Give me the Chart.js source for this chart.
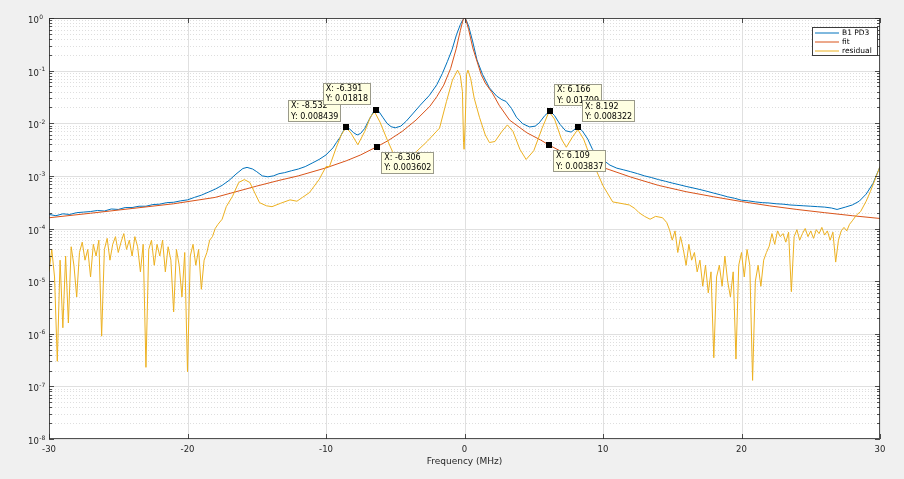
<!DOCTYPE html>
<html>
<head>
<meta charset="utf-8">
<script src="https://cdn.jsdelivr.net/npm/chart.js@4.4.1/dist/chart.umd.min.js"></script>
<style>
  html, body { margin: 0; padding: 0; background: #f0f0f0; }
  #wrap { width: 904px; height: 479px; }
</style>
</head>
<body>
<div id="wrap"><canvas id="c"></canvas></div>
<script>
const blueFreq = [-30, -29.5, -29, -28.5, -28, -27.5, -27, -26.5, -26, -25.5, -25, -24.5, -24, -23.5, -23, -22.5, -22, -21.5, -21, -20.5, -20, -19.5, -19, -18.5, -18, -17.5, -17, -16.5, -16, -15.7, -15.3, -15, -14.6, -14.2, -13.8, -13.4, -13, -12.5, -12, -11.5, -11, -10.5, -10, -9.5, -9.25, -9, -8.8, -8.532, -8.3, -8, -7.75, -7.5, -7.2, -6.9, -6.6, -6.391, -6.2, -5.9, -5.6, -5.3, -5, -4.6, -4.2, -3.75, -3.2, -2.53, -2, -1.6, -1.23, -0.9, -0.58, -0.3, -0.12, 0, 0.12, 0.3, 0.6, 0.9, 1.3, 1.8, 2.31, 2.7, 3, 3.4, 3.75, 4.2, 4.7, 5.1, 5.4, 5.8, 6.166, 6.5, 6.9, 7.3, 7.7, 8, 8.192, 8.5, 8.9, 9.24, 9.8, 10.5, 11, 11.5, 12, 12.5, 13, 13.5, 14, 14.5, 15, 15.5, 16, 16.5, 17, 17.5, 18, 18.5, 19, 19.5, 20, 20.5, 21, 21.5, 22, 22.5, 23, 23.5, 24, 24.5, 25, 25.5, 26, 26.5, 26.9, 27.5, 28, 28.5, 29, 29.5, 30];
const blueAmp = [1.85e-4, 1.75e-4, 1.9e-4, 1.85e-4, 2.0e-4, 2.05e-4, 2.1e-4, 2.2e-4, 2.15e-4, 2.35e-4, 2.3e-4, 2.5e-4, 2.5e-4, 2.65e-4, 2.65e-4, 2.85e-4, 2.9e-4, 3.1e-4, 3.15e-4, 3.35e-4, 3.5e-4, 3.9e-4, 4.3e-4, 4.9e-4, 5.6e-4, 6.6e-4, 8.2e-4, 1.08e-3, 1.38e-3, 1.45e-3, 1.35e-3, 1.2e-3, 1.0e-3, 9.6e-4, 1.0e-3, 1.1e-3, 1.15e-3, 1.25e-3, 1.35e-3, 1.5e-3, 1.75e-3, 2.05e-3, 2.5e-3, 3.4e-3, 4.3e-3, 5.3e-3, 6.8e-3, 8.439e-3, 7.8e-3, 6.6e-3, 6.0e-3, 6.4e-3, 8.0e-3, 1.15e-2, 1.6e-2, 1.818e-2, 1.7e-2, 1.3e-2, 1.0e-2, 8.6e-3, 8.2e-3, 8.8e-3, 1.1e-2, 1.5e-2, 2.2e-2, 3.4e-2, 5.4e-2, 8.8e-2, 0.15, 0.25, 0.48, 0.75, 0.93, 1.0, 0.92, 0.7, 0.35, 0.16, 0.085, 0.047, 0.033, 0.028, 0.026, 0.019, 0.013, 9.8e-3, 8.5e-3, 8.8e-3, 1.02e-2, 1.4e-2, 1.709e-2, 1.4e-2, 9.5e-3, 7.2e-3, 6.8e-3, 7.8e-3, 8.322e-3, 7.2e-3, 5.0e-3, 3.2e-3, 2.2e-3, 1.6e-3, 1.4e-3, 1.3e-3, 1.2e-3, 1.1e-3, 1.0e-3, 9.3e-4, 8.5e-4, 7.9e-4, 7.3e-4, 6.8e-4, 6.3e-4, 5.9e-4, 5.5e-4, 5.1e-4, 4.7e-4, 4.35e-4, 4.0e-4, 3.75e-4, 3.45e-4, 3.35e-4, 3.2e-4, 3.1e-4, 3.05e-4, 2.95e-4, 2.9e-4, 2.8e-4, 2.75e-4, 2.7e-4, 2.65e-4, 2.6e-4, 2.55e-4, 2.45e-4, 2.3e-4, 2.55e-4, 2.8e-4, 3.3e-4, 4.5e-4, 7.2e-4, 1.5e-3];

// Lorentzian fit
const fitFreq = [-30, -27, -24, -21, -18, -15, -13.4, -12, -10, -8.5, -7.5, -6.306, -5.5, -4.5, -3.5, -2.5, -2, -1.5, -1, -0.6, -0.3, -0.1, 0, 0.1, 0.3, 0.6, 0.87, 1.2, 1.5, 2, 2.5, 3.25, 4.5, 5.5, 6.109, 7, 8, 9, 10.5, 12, 14, 16, 18, 20, 22, 24, 26, 28, 30];
const fitAmp = [1.6e-4, 1.95e-4, 2.4e-4, 2.95e-4, 3.9e-4, 6.4e-4, 8.2e-4, 1.0e-3, 1.42e-3, 1.95e-3, 2.5e-3, 3.602e-3, 4.7e-3, 7.0e-3, 1.15e-2, 2.1e-2, 3.2e-2, 5.3e-2, 0.11, 0.26, 0.58, 0.93, 1.0, 0.93, 0.6, 0.27, 0.16, 0.085, 0.058, 0.038, 0.022, 0.0115, 6.6e-3, 4.8e-3, 3.837e-3, 2.9e-3, 2.25e-3, 1.78e-3, 1.3e-3, 9.5e-4, 6.6e-4, 5.0e-4, 4.0e-4, 3.25e-4, 2.7e-4, 2.3e-4, 2.0e-4, 1.75e-4, 1.55e-4];

// residual = data - fit
const resFreq = [-30, -29.8, -29.6, -29.4, -29.2, -29, -28.8, -28.6, -28.4, -28.2, -28, -27.8, -27.6, -27.4, -27.2, -27, -26.8, -26.6, -26.4, -26.2, -26, -25.8, -25.6, -25.4, -25.2, -25, -24.8, -24.6, -24.4, -24.2, -24, -23.8, -23.6, -23.4, -23.2, -23, -22.8, -22.6, -22.4, -22.2, -22, -21.8, -21.6, -21.4, -21.2, -21, -20.8, -20.6, -20.4, -20.2, -20, -19.8, -19.6, -19.4, -19.2, -19, -18.8, -18.6, -18.4, -18.2, -18, -17.8, -17.5, -17.2, -16.75, -16.3, -15.9, -15.5, -15.1, -14.8, -14.3, -13.9, -13.3, -12.6, -12.1, -11.7, -11.2, -10.5, -10, -9.75, -9.25, -8.9, -8.55, -8.2, -7.7, -7.2, -6.8, -6.5, -6.1, -5.6, -5.2, -4.6, -4.1, -3.47, -2.7, -1.8, -1.3, -0.87, -0.5, -0.3, -0.15, -0.07, -0.03, 0.05, 0.15, 0.25, 0.45, 0.7, 1.08, 1.5, 1.8, 2.2, 2.7, 3.1, 3.5, 4, 4.45, 5, 5.6, 6.1, 6.5, 7, 7.35, 7.8, 8.18, 8.6, 9, 9.5, 10, 10.3, 10.7, 11.3, 11.9, 12.3, 12.6, 13, 13.4, 13.8, 14.3, 14.6, 14.8, 15, 15.2, 15.4, 15.6, 15.8, 16, 16.2, 16.4, 16.6, 16.8, 17, 17.2, 17.4, 17.6, 17.8, 18, 18.2, 18.4, 18.6, 18.8, 19, 19.2, 19.4, 19.6, 19.8, 20, 20.2, 20.4, 20.6, 20.8, 21, 21.2, 21.4, 21.6, 21.8, 22, 22.2, 22.4, 22.6, 22.8, 23, 23.2, 23.4, 23.6, 23.8, 24, 24.2, 24.4, 24.6, 24.8, 25, 25.2, 25.4, 25.6, 25.8, 26, 26.2, 26.4, 26.6, 26.8, 27, 27.2, 27.4, 27.6, 27.8, 28, 28.3, 28.6, 29, 29.3, 29.6, 30];
const resAmp = [1.5e-5, 4e-5, 1.2e-5, 3e-7, 2.5e-5, 1.3e-6, 3e-5, 1.6e-6, 4.5e-5, 2e-5, 5e-6, 3.5e-5, 5.5e-5, 2.5e-5, 4e-5, 1.2e-5, 5e-5, 3e-5, 6e-5, 9e-7, 4e-5, 6.5e-5, 2.5e-5, 5e-5, 7e-5, 3.5e-5, 5.5e-5, 8e-5, 4e-5, 6e-5, 3e-5, 7e-5, 4.5e-5, 1.5e-5, 5e-5, 2.3e-7, 4e-5, 6e-5, 2e-5, 5e-5, 3e-5, 6e-5, 1.5e-5, 4.5e-5, 2.5e-5, 2.6e-6, 4e-5, 2e-5, 5e-6, 3.5e-5, 1.9e-7, 3e-5, 5e-5, 2e-5, 4e-5, 7e-6, 2.5e-5, 3.5e-5, 6e-5, 7e-5, 1e-4, 1.2e-4, 1.5e-4, 2.6e-4, 4.1e-4, 7.5e-4, 8.5e-4, 7.5e-4, 4.5e-4, 3.1e-4, 2.7e-4, 2.6e-4, 3.0e-4, 3.5e-4, 3.3e-4, 3.9e-4, 4.8e-4, 8.5e-4, 1.5e-3, 1.5e-3, 3.5e-3, 6e-3, 8.3e-3, 6.5e-3, 3.9e-3, 7e-3, 1.3e-2, 1.66e-2, 1.05e-2, 5e-3, 2.9e-3, 1.4e-3, 1.6e-3, 2.9e-3, 4.5e-3, 8.1e-3, 2.6e-2, 6.6e-2, 0.102, 0.08, 0.04, 4.3e-3, 3.2e-3, 1e-2, 0.085, 0.102, 0.07, 0.03, 1.3e-2, 6e-3, 4.3e-3, 4.5e-3, 7e-3, 9.3e-3, 7e-3, 3.2e-3, 2.05e-3, 3.0e-3, 8e-3, 1.66e-2, 1.2e-2, 5e-3, 3.5e-3, 5.5e-3, 7.6e-3, 5e-3, 2.6e-3, 1.3e-3, 6.5e-4, 4.8e-4, 3.2e-4, 3.0e-4, 2.8e-4, 2.4e-4, 2.0e-4, 1.7e-4, 1.5e-4, 1.7e-4, 1.6e-4, 1.3e-4, 9.5e-5, 6e-5, 9e-5, 3.5e-5, 7e-5, 4e-5, 2e-5, 5e-5, 2.5e-5, 3.5e-5, 1.5e-5, 2.5e-5, 8e-6, 2e-5, 6e-6, 1.5e-5, 3.5e-7, 1.2e-5, 2e-5, 8e-6, 3e-5, 1e-5, 5e-6, 1.5e-5, 3.3e-7, 2e-5, 3.5e-5, 1.2e-5, 4e-5, 2e-5, 1.3e-7, 1e-5, 2e-5, 8e-6, 2.5e-5, 3.5e-5, 4.6e-5, 8e-5, 5e-5, 9e-5, 7e-5, 8e-5, 5.5e-5, 8.5e-5, 6.3e-6, 7e-5, 9.5e-5, 6e-5, 8e-5, 1e-4, 7e-5, 9e-5, 6.5e-5, 9.5e-5, 8e-5, 1.05e-4, 7.5e-5, 9e-5, 6e-5, 8.5e-5, 2.3e-5, 6e-5, 9e-5, 1.05e-4, 9e-5, 1.2e-4, 1.4e-4, 1.8e-4, 2.1e-4, 3.3e-4, 5e-4, 8e-4, 1.5e-3];

const seriesNames = ['B1 PD3', 'fit', 'residual'];
const seriesColors = ['#0072BD', '#D95319', '#EDB120'];
const xTicks = [-30, -20, -10, 0, 10, 20, 30];
const yExponents = [0, -1, -2, -3, -4, -5, -6, -7, -8];

// data tips: x, y, and on which side the box sits
const tipX = [-8.532, -6.391, -6.306, 6.166, 8.192, 6.109];
const tipY = [0.008439, 0.01818, 0.003602, 0.01709, 0.008322, 0.003837];
const tipXText = ['-8.532', '-6.391', '-6.306', '6.166', '8.192', '6.109'];
const tipYText = ['0.008439', '0.01818', '0.003602', '0.01709', '0.008322', '0.003837'];
const tipSide = ['ul', 'ul', 'dr', 'ur', 'ur', 'dr'];

function pairs(xs, ys) {
  return xs.map((x, i) => ({ x: x, y: ys[i] }));
}

const FONT = "'DejaVu Sans', sans-serif";
const AXC = '#262626';

const matlabAxes = {
  id: 'matlabAxes',
  beforeDatasetsDraw(chart) {
    const ctx = chart.ctx, a = chart.chartArea;
    const xs = chart.scales.x, ys = chart.scales.y;
    ctx.save();
    ctx.fillStyle = '#ffffff';
    ctx.fillRect(a.left, a.top, a.right - a.left, a.bottom - a.top);
    ctx.lineWidth = 1;
    // minor horizontal grid (dotted)
    ctx.strokeStyle = '#dedede';
    ctx.setLineDash([1, 2]);
    yExponents.forEach(e => {
      if (e === 0) return;
      for (let m = 2; m <= 9; m++) {
        const py = Math.round(ys.getPixelForValue(m * Math.pow(10, e))) + 0.5;
        ctx.beginPath(); ctx.moveTo(a.left, py); ctx.lineTo(a.right, py); ctx.stroke();
      }
    });
    // major grid
    ctx.setLineDash([]);
    ctx.strokeStyle = '#e0e0e0';
    yExponents.forEach(e => {
      const py = Math.round(ys.getPixelForValue(Math.pow(10, e))) + 0.5;
      ctx.beginPath(); ctx.moveTo(a.left, py); ctx.lineTo(a.right, py); ctx.stroke();
    });
    xTicks.forEach(t => {
      const px = Math.round(xs.getPixelForValue(t)) + 0.5;
      ctx.beginPath(); ctx.moveTo(px, a.top); ctx.lineTo(px, a.bottom); ctx.stroke();
    });
    ctx.restore();
  },
  afterDatasetsDraw(chart) {
    const ctx = chart.ctx, a = chart.chartArea;
    const xs = chart.scales.x, ys = chart.scales.y;
    ctx.save();
    ctx.strokeStyle = AXC;
    ctx.lineWidth = 1;
    ctx.globalAlpha = 0.8;
    ctx.strokeRect(a.left + 0.5, a.top + 0.5, a.right - a.left - 1, a.bottom - a.top - 1);
    // inward ticks
    ctx.beginPath();
    xTicks.forEach(t => {
      const px = Math.round(xs.getPixelForValue(t)) + 0.5;
      ctx.moveTo(px, a.bottom); ctx.lineTo(px, a.bottom - 5);
      ctx.moveTo(px, a.top); ctx.lineTo(px, a.top + 5);
    });
    yExponents.forEach(e => {
      for (let m = 1; m <= 9; m++) {
        if (e === 0 && m > 1) break;
        const py = Math.round(ys.getPixelForValue(m * Math.pow(10, e))) + 0.5;
        const len = m === 1 ? 5 : 3;
        ctx.moveTo(a.left, py); ctx.lineTo(a.left + len, py);
        ctx.moveTo(a.right, py); ctx.lineTo(a.right - len, py);
      }
    });
    ctx.stroke();
    ctx.globalAlpha = 1;

    // y labels 10^n
    ctx.fillStyle = AXC;
    ctx.textBaseline = 'alphabetic';
    ctx.textAlign = 'left';
    yExponents.forEach(e => {
      const py = ys.getPixelForValue(Math.pow(10, e));
      ctx.font = '8.5px ' + FONT;
      ctx.fillText('10', 28, py + 5);
      const w = ctx.measureText('10').width;
      ctx.font = '6px ' + FONT;
      ctx.fillText(String(e), 28 + w + 0.5, py + 0.5);
    });

    // legend
    const lx = 812, ly = 27, lw = 65, lh = 28;
    ctx.fillStyle = '#ffffff';
    ctx.fillRect(lx, ly, lw, lh);
    ctx.strokeStyle = '#3c3c3c';
    ctx.strokeRect(lx + 0.5, ly + 0.5, lw, lh);
    ctx.font = '7.5px ' + FONT;
    ctx.textBaseline = 'middle';
    chart.data.datasets.forEach((ds, i) => {
      const ry = ly + 6 + i * 9;
      ctx.strokeStyle = ds.borderColor;
      ctx.beginPath(); ctx.moveTo(lx + 3, ry); ctx.lineTo(lx + 27, ry); ctx.stroke();
      ctx.fillStyle = '#000';
      ctx.fillText(ds.label, lx + 30, ry);
    });

    // data tips
    ctx.font = '8px ' + FONT;
    tipX.forEach((tx, i) => {
      const mx = xs.getPixelForValue(tx), my = ys.getPixelForValue(tipY[i]);
      const l1 = 'X: ' + tipXText[i], l2 = 'Y: ' + tipYText[i];
      const bw = Math.max(ctx.measureText(l1).width, ctx.measureText(l2).width) + 6;
      const bh = 22;
      const side = tipSide[i];
      const bx = side[1] === 'l' ? mx - 5 - bw : mx + 4;
      const by = side[0] === 'u' ? my - 5 - bh : my + 5;
      ctx.fillStyle = '#ffffe1';
      ctx.fillRect(Math.round(bx), Math.round(by), Math.round(bw), bh);
      ctx.strokeStyle = '#9a9a8a';
      ctx.strokeRect(Math.round(bx) + 0.5, Math.round(by) + 0.5, Math.round(bw) - 1, bh - 1);
      ctx.fillStyle = '#000';
      ctx.textBaseline = 'middle';
      ctx.fillText(l1, bx + 3, by + 6);
      ctx.fillText(l2, bx + 3, by + 16.5);
      ctx.fillRect(Math.round(mx) - 3, Math.round(my) - 3, 6, 6);
    });
    ctx.restore();
  }
};

new Chart(document.getElementById('c'), {
  type: 'line',
  data: {
    datasets: [
      { label: seriesNames[0], data: pairs(blueFreq, blueAmp), borderColor: seriesColors[0], order: 3 },
      { label: seriesNames[1], data: pairs(fitFreq, fitAmp), borderColor: seriesColors[1], order: 2 },
      { label: seriesNames[2], data: pairs(resFreq, resAmp), borderColor: seriesColors[2], order: 1 }
    ]
  },
  options: {
    responsive: true,
    maintainAspectRatio: false,
    animation: false,
    events: [],
    layout: { padding: { top: 18, right: 24, left: 0, bottom: 0 } },
    elements: {
      line: { borderWidth: 1, tension: 0, fill: false },
      point: { radius: 0 }
    },
    plugins: { legend: { display: false }, tooltip: { enabled: false } },
    scales: {
      x: {
        type: 'linear', min: -30, max: 30,
        afterBuildTicks: s => { s.ticks = xTicks.map(v => ({ value: v })); },
        afterFit: s => { s.height = 40; },
        ticks: { color: AXC, font: { family: FONT, size: 8.5 }, padding: 6, maxRotation: 0 },
        grid: { display: false, drawTicks: false },
        border: { display: false },
        title: { display: true, text: 'Frequency (MHz)', color: AXC, font: { family: FONT, size: 9 }, padding: { top: 0, bottom: 12 } }
      },
      y: {
        type: 'logarithmic', min: 1e-8, max: 1,
        afterFit: s => { s.width = 49; },
        ticks: { display: false },
        grid: { display: false, drawTicks: false },
        border: { display: false }
      }
    }
  },
  plugins: [matlabAxes]
});
</script>
</body>
</html>
